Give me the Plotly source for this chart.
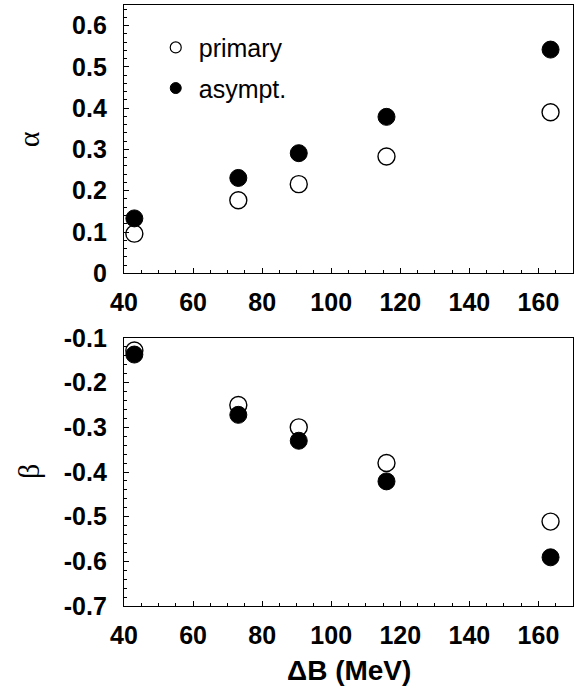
import plotly.graph_objects as go
from plotly.subplots import make_subplots

# Data
delta_b = [43.0, 73.1, 90.6, 116.0, 163.5]
alpha_primary = [0.096, 0.177, 0.216, 0.283, 0.390]
alpha_asympt = [0.133, 0.231, 0.291, 0.379, 0.542]
beta_primary = [-0.128, -0.250, -0.300, -0.380, -0.511]
beta_asympt = [-0.137, -0.272, -0.330, -0.421, -0.591]

x_ticks = [40, 60, 80, 100, 120, 140, 160]
alpha_ticks = [0, 0.1, 0.2, 0.3, 0.4, 0.5, 0.6]
alpha_ticktext = ["0", "0.1", "0.2", "0.3", "0.4", "0.5", "0.6"]
beta_ticks = [-0.7, -0.6, -0.5, -0.4, -0.3, -0.2, -0.1]
beta_ticktext = ["-0.7", "-0.6", "-0.5", "-0.4", "-0.3", "-0.2", "-0.1"]

fig = make_subplots(rows=2, cols=1, vertical_spacing=0.0)

open_marker = dict(symbol="circle", size=17, color="white", line=dict(color="black", width=1.4))
filled_marker = dict(symbol="circle", size=17, color="black", line=dict(color="black", width=1))

fig.add_trace(go.Scatter(x=delta_b, y=alpha_primary, mode="markers", name="primary",
                         marker=open_marker, showlegend=False), row=1, col=1)
fig.add_trace(go.Scatter(x=delta_b, y=alpha_asympt, mode="markers", name="asympt.",
                         marker=filled_marker, showlegend=False), row=1, col=1)
fig.add_trace(go.Scatter(x=delta_b, y=beta_primary, mode="markers", name="primary",
                         marker=open_marker, showlegend=False), row=2, col=1)
fig.add_trace(go.Scatter(x=delta_b, y=beta_asympt, mode="markers", name="asympt.",
                         marker=filled_marker, showlegend=False), row=2, col=1)

# legend entries (smaller symbols, as in the reference key)
fig.add_trace(go.Scatter(x=[None], y=[None], mode="markers", name="primary", legend="legend",
                         marker=dict(symbol="circle", size=11, color="white",
                                     line=dict(color="black", width=1.2))), row=1, col=1)
fig.add_trace(go.Scatter(x=[None], y=[None], mode="markers", name="asympt.", legend="legend2",
                         marker=dict(symbol="circle", size=11, color="black",
                                     line=dict(color="black", width=1))), row=1, col=1)

tickfont = dict(family="Liberation Sans, Arial, sans-serif", size=25, color="black", weight="bold")

common_x = dict(range=[40, 170], tickvals=x_ticks, ticks="inside", ticklen=5, tickwidth=1.3,
                tickcolor="black", showline=True, linecolor="black", linewidth=1.4, mirror=True,
                showgrid=False, zeroline=False, tickfont=tickfont, automargin=False,
                ticklabelstandoff=7,
                minor=dict(dtick=5, ticks="inside", ticklen=3, tickcolor="black", tickwidth=1, showgrid=False))

fig.update_xaxes(**common_x, row=1, col=1)
fig.update_xaxes(**common_x, row=2, col=1)

common_y = dict(ticks="inside", ticklen=5, tickwidth=1.3, tickcolor="black", showline=True,
                linecolor="black", linewidth=1.4, mirror=True, showgrid=False, zeroline=False,
                tickfont=tickfont, ticklabelstandoff=11, automargin=False,
                minor=dict(dtick=0.02, ticks="inside", ticklen=3, tickcolor="black", tickwidth=1, showgrid=False))

fig.update_yaxes(**common_y, row=1, col=1, range=[0, 0.65], tickvals=alpha_ticks, ticktext=alpha_ticktext)
fig.update_yaxes(**common_y, row=2, col=1, range=[-0.7, -0.1], tickvals=beta_ticks, ticktext=beta_ticktext)

# axis titles
fig.add_annotation(text="α", xref="paper", yref="y domain", x=0, y=0.5, xshift=-96,
                   xanchor="center", yanchor="middle", textangle=-90, showarrow=False,
                   font=dict(family="Liberation Serif, serif", size=30, color="black"))
fig.add_annotation(text="β", xref="paper", yref="y2 domain", x=0, y=0.5, xshift=-96,
                   xanchor="center", yanchor="middle", textangle=-90, showarrow=False,
                   font=dict(family="Liberation Serif, serif", size=30, color="black"))
fig.add_annotation(text="ΔB (MeV)", xref="x2 domain", yref="paper", x=0.5, y=0, yshift=-64,
                   xanchor="center", yanchor="middle", showarrow=False,
                   font=dict(family="Liberation Sans, Arial, sans-serif", size=28, color="black",
                             weight="bold"))

legend_font = dict(family="Liberation Sans, Arial, sans-serif", size=25, color="black")
fig.update_layout(
    width=575, height=689,
    margin=dict(l=124, r=2, t=5, b=83, autoexpand=False),
    plot_bgcolor="white", paper_bgcolor="white",
    yaxis=dict(domain=[0.5536, 1.0]),
    yaxis2=dict(domain=[0.0, 0.4459]),
    legend=dict(x=0.064, y=0.929, xanchor="left", yanchor="middle", bgcolor="rgba(0,0,0,0)",
                font=legend_font, itemwidth=36),
    legend2=dict(x=0.064, y=0.8614, xanchor="left", yanchor="middle", bgcolor="rgba(0,0,0,0)",
                 font=legend_font, itemwidth=36),
    showlegend=True,
)

fig.write_html("out.html", config={"displayModeBar": False},
               post_script="document.body.style.margin='0';")
